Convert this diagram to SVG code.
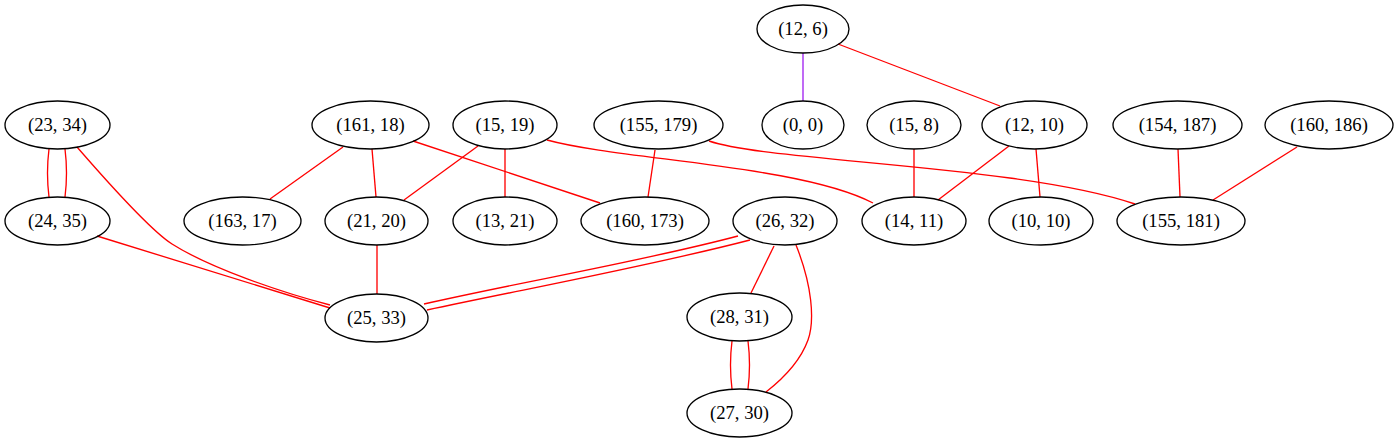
<svg xmlns="http://www.w3.org/2000/svg" width="1399" height="443" viewBox="0 0 1399 443">
<style>
.n ellipse{fill:none;stroke:#000;stroke-width:1.33}
.n text{font-family:"Liberation Serif","Times New Roman",serif;font-size:18.67px;text-anchor:middle;fill:#000}
.e path{fill:none;stroke:#ff0000;stroke-width:1.33}
.e path.p{stroke:#a020f0}
</style>
<rect width="1399" height="443" fill="#fff"/>
<g class="e" id="edges">
<path class="p" d="M803,53 L803,101"/>
<path d="M838,44 L1000,106"/>
<path d="M49,149 C47,165 47,181 49,197"/>
<path d="M65,149 C67,165 67,181 65,197"/>
<path d="M77,147 C110,185 150,230 172,244 C210,268 280,292 330,305"/>
<path d="M97,236 L330,308"/>
<path d="M343,147 L270,199"/>
<path d="M372,149 L376,197"/>
<path d="M413,141 L600,203"/>
<path d="M478,146 L404,200"/>
<path d="M505,149 L505,197"/>
<path d="M547,140 C620,160 800,165 873,203"/>
<path d="M655,150 L648,197"/>
<path d="M709,141 C770,162 1020,165 1135,204"/>
<path d="M914,149 L914,197"/>
<path d="M1009,146 L938,200"/>
<path d="M1036,149 L1040,197"/>
<path d="M1178,149 L1180,197"/>
<path d="M1297,147 L1213,200"/>
<path d="M377,245 L377,294"/>
<path d="M738,236 C640,262 520,282 424,304"/>
<path d="M750,240 C650,266 530,288 427,310"/>
<path d="M774,246 L751,293"/>
<path d="M796,245 C812,285 815,320 808,340 C800,362 784,378 766,392"/>
<path d="M732,341 C730,357 730,373 732,389"/>
<path d="M748,341 C750,357 750,373 748,389"/>
</g>
<g class="n" id="n_12_6"><ellipse cx="803" cy="29" rx="46" ry="24"/><text x="803" y="35">(12, 6)</text></g>
<g class="n" id="n_0_0"><ellipse cx="803" cy="125" rx="41" ry="24"/><text x="803" y="131">(0, 0)</text></g>
<g class="n" id="n_23_34"><ellipse cx="57.5" cy="125" rx="52.5" ry="24"/><text x="57.5" y="131">(23, 34)</text></g>
<g class="n" id="n_24_35"><ellipse cx="57.5" cy="221" rx="52.5" ry="24"/><text x="57.5" y="227">(24, 35)</text></g>
<g class="n" id="n_161_18"><ellipse cx="370.5" cy="125" rx="58.5" ry="24"/><text x="370.5" y="131">(161, 18)</text></g>
<g class="n" id="n_163_17"><ellipse cx="242.5" cy="221" rx="58.5" ry="24"/><text x="242.5" y="227">(163, 17)</text></g>
<g class="n" id="n_21_20"><ellipse cx="376.5" cy="221" rx="51.5" ry="24"/><text x="376.5" y="227">(21, 20)</text></g>
<g class="n" id="n_25_33"><ellipse cx="376.5" cy="318" rx="51.5" ry="24"/><text x="376.5" y="324">(25, 33)</text></g>
<g class="n" id="n_15_19"><ellipse cx="505" cy="125" rx="52" ry="24"/><text x="505" y="131">(15, 19)</text></g>
<g class="n" id="n_13_21"><ellipse cx="505" cy="221" rx="52" ry="24"/><text x="505" y="227">(13, 21)</text></g>
<g class="n" id="n_155_179"><ellipse cx="658.5" cy="125" rx="64.5" ry="24"/><text x="658.5" y="131">(155, 179)</text></g>
<g class="n" id="n_160_173"><ellipse cx="645" cy="221" rx="64" ry="24"/><text x="645" y="227">(160, 173)</text></g>
<g class="n" id="n_26_32"><ellipse cx="785" cy="221" rx="52" ry="24"/><text x="785" y="227">(26, 32)</text></g>
<g class="n" id="n_15_8"><ellipse cx="914" cy="125" rx="47" ry="24"/><text x="914" y="131">(15, 8)</text></g>
<g class="n" id="n_14_11"><ellipse cx="914" cy="221" rx="52" ry="24"/><text x="914" y="227">(14, 11)</text></g>
<g class="n" id="n_12_10"><ellipse cx="1034.5" cy="125" rx="52.5" ry="24"/><text x="1034.5" y="131">(12, 10)</text></g>
<g class="n" id="n_10_10"><ellipse cx="1041" cy="221" rx="52" ry="24"/><text x="1041" y="227">(10, 10)</text></g>
<g class="n" id="n_154_187"><ellipse cx="1177.5" cy="125" rx="64.5" ry="24"/><text x="1177.5" y="131">(154, 187)</text></g>
<g class="n" id="n_160_186"><ellipse cx="1329" cy="125" rx="64" ry="24"/><text x="1329" y="131">(160, 186)</text></g>
<g class="n" id="n_155_181"><ellipse cx="1181" cy="221" rx="64" ry="24"/><text x="1181" y="227">(155, 181)</text></g>
<g class="n" id="n_28_31"><ellipse cx="739.5" cy="317" rx="52.5" ry="24"/><text x="739.5" y="323">(28, 31)</text></g>
<g class="n" id="n_27_30"><ellipse cx="739.5" cy="413" rx="52.5" ry="24"/><text x="739.5" y="419">(27, 30)</text></g>
</svg>
